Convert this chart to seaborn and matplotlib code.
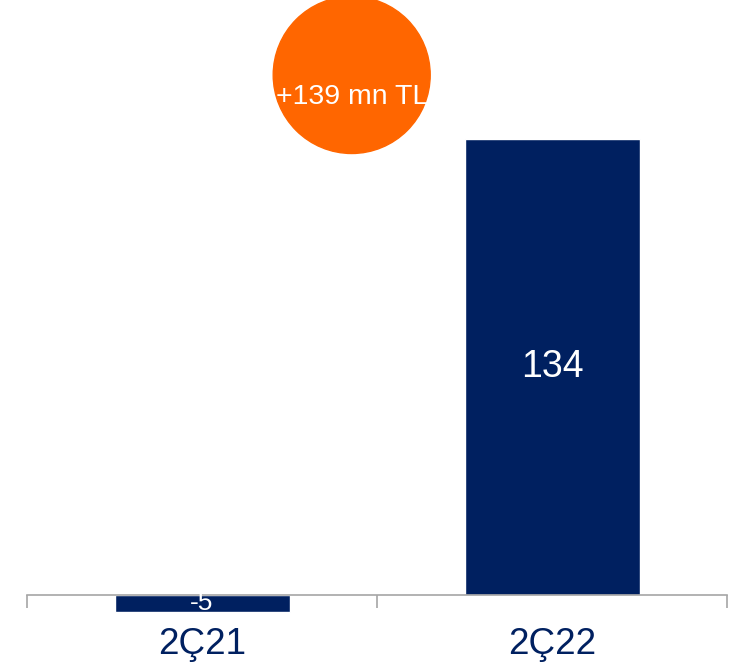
import matplotlib
matplotlib.use("Agg")
import matplotlib.pyplot as plt
from matplotlib.patches import Ellipse
import seaborn as sns
import pandas as pd

# data
periods = ["2Ç21", "2Ç22"]
net_income = [-5, 134]
change_label = "+139 mn TL"

NAVY = "#002060"
ORANGE = "#FF6600"
GREY = "#A6A6A6"

sns.set_theme(style="white")
plt.rcParams["font.family"] = ["Liberation Sans", "DejaVu Sans"]

df = pd.DataFrame({"period": periods, "value": net_income})

fig = plt.figure(figsize=(7.46, 6.68), dpi=100)
# axes spans pixel rows 10..640, columns 27..727
ax = fig.add_axes([27 / 746, (668 - 640) / 668, 700 / 746, 630 / 668])

sns.barplot(data=df, x="period", y="value", color=NAVY, width=0.5,
            saturation=1, ax=ax)

ax.set_xlim(-0.5, 1.5)
ax.set_ylim(-13.25, 171.8)
ax.set_xlabel("")
ax.set_ylabel("")
ax.set_yticks([])

for s in ["left", "right", "top"]:
    ax.spines[s].set_visible(False)
ax.spines["bottom"].set_position(("data", 0))
ax.spines["bottom"].set_color(GREY)
ax.spines["bottom"].set_linewidth(1.2)

# separator ticks between categories, labels without ticks
ax.set_xticks([-0.5, 0.5, 1.5], minor=True)
ax.tick_params(axis="x", which="minor", direction="out", length=9,
               width=1.2, color=GREY, bottom=True)
ax.tick_params(axis="x", which="major", length=0, pad=23,
               labelsize=26.5, labelcolor=NAVY)

# value labels inside bars
for bar, v in zip(ax.patches, net_income):
    ax.text(bar.get_x() + bar.get_width() / 2, v / 2, f"{v}",
            ha="center", va="center", color="white",
            fontsize=27 if v > 20 else 19)

# orange bubble with the change
circ = Ellipse((351.7 / 746, 1 - 75 / 668), 157 / 746, 157 / 668,
               transform=fig.transFigure, color=ORANGE, zorder=5)
fig.patches.append(circ)
t = fig.text(351.7 / 746, 1 - 97 / 668, change_label, ha="center",
             va="center", color="white", fontsize=20.5, zorder=6)
t.set_clip_path(circ)

fig.savefig("out.png", dpi=100, facecolor="white")
